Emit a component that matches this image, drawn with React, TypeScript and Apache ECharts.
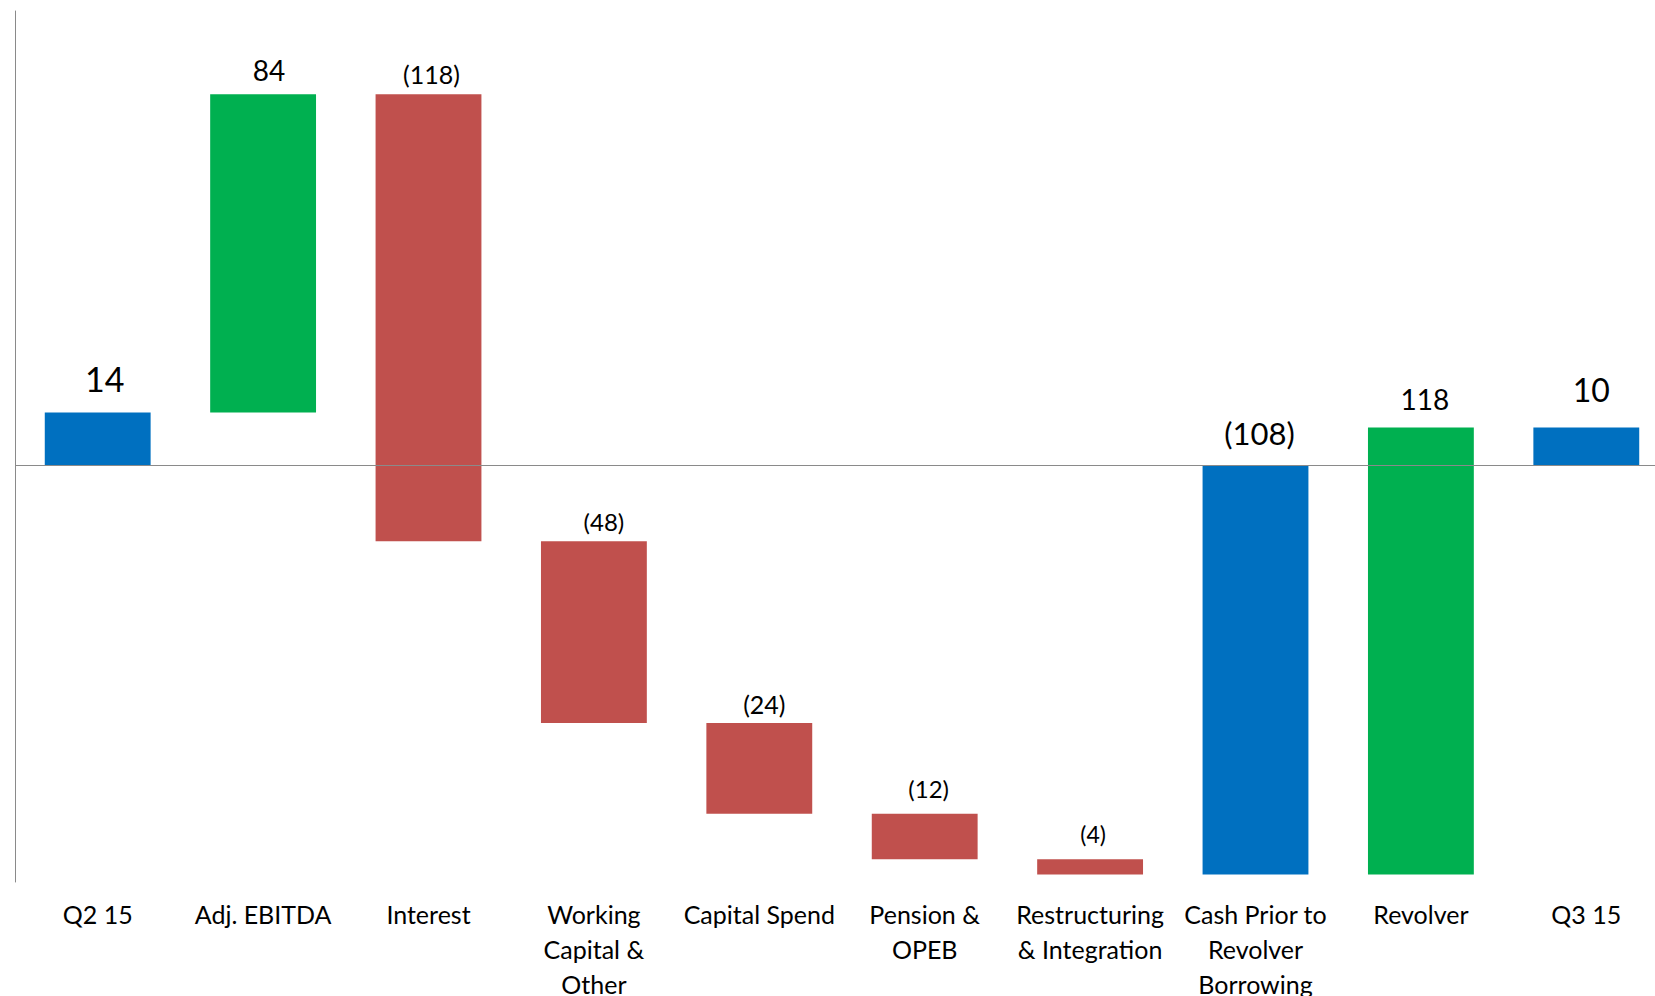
import React, { useEffect, useRef } from "react";
import * as echarts from "echarts";

// ---- data ----
const categories = [
  "Q2 15",
  "Adj. EBITDA",
  "Interest",
  "Working\nCapital &\nOther",
  "Capital Spend",
  "Pension &\nOPEB",
  "Restructuring\n& Integration",
  "Cash Prior to\nRevolver\nBorrowing",
  "Revolver",
  "Q3 15",
];
const changes = [14, 84, -118, -48, -24, -12, -4, -108, 118, 10];
const kinds = [
  "total",
  "increase",
  "decrease",
  "decrease",
  "decrease",
  "decrease",
  "decrease",
  "total",
  "increase",
  "total",
];

// ---- styles ----
const labelSizes = [34, 28, 25, 24, 25, 24, 23, 31, 28, 32];
const labelLifts = [34, 24, 20, 20, 19, 25, 25, 32, 29, 38];
const labelShiftX = [7, 6, 3, 10, 5, 4, 3, 4, 4, 5];
const kindColors: Record<string, string> = {
  total: "#0070C0",
  increase: "#00B050",
  decrease: "#C0504D",
};
const axisGray = "#8a8a8a";
const FONT = "Lato";

function fmt(v: number) {
  return v < 0 ? `(${-v})` : `${v}`;
}

// build floating ranges from the running total
let running = 0;
const rows = changes.map((v, i) => {
  let lo: number, hi: number;
  if (kinds[i] === "total") {
    lo = Math.min(0, v);
    hi = Math.max(0, v);
    running = v;
  } else {
    const next = running + v;
    lo = Math.min(running, next);
    hi = Math.max(running, next);
    running = next;
  }
  return [i, lo, hi, v];
});

export default function App() {
  const ref = useRef<HTMLDivElement>(null);
  useEffect(() => {
    if (!ref.current) return;
    const chart = echarts.init(ref.current, undefined, { renderer: "svg" });
    chart.setOption({
      animation: false,
      backgroundColor: "#ffffff",
      grid: {
        left: 15,
        top: 11,
        width: 1654,
        bottom: 114,
        containLabel: false,
        outerBoundsMode: "none",
      },
      xAxis: {
        type: "category",
        data: categories,
        axisLine: { show: false, onZero: false },
        axisTick: { show: false },
        splitLine: { show: false },
        axisLabel: {
          interval: 0,
          color: "#000",
          fontSize: 25,
          fontFamily: FONT,
          lineHeight: 35,
          margin: 14,
        },
      },
      yAxis: {
        type: "value",
        min: -110,
        max: 120,
        axisLabel: { show: false },
        axisTick: { show: false },
        splitLine: { show: false },
        axisLine: { show: true, onZero: false, lineStyle: { color: axisGray, width: 1 } },
      },
      series: [
        {
          type: "custom",
          z: 2,
          clip: false,
          dimensions: ["x", "lo", "hi", "v"],
          encode: { x: 0, y: [1, 2] },
          data: rows,
          renderItem: (params: any, api: any) => {
            const idx = api.value(0);
            const lo = api.value(1);
            const hi = api.value(2);
            const v = api.value(3);
            const top = api.coord([idx, hi]);
            const bot = api.coord([idx, lo]);
            const w = api.size([1, 0])[0] * 0.64;
            return {
              type: "group",
              children: [
                {
                  type: "rect",
                  shape: { x: top[0] - w / 2, y: top[1], width: w, height: bot[1] - top[1] },
                  style: { fill: kindColors[kinds[idx]] },
                },
                {
                  type: "text",
                  x: top[0] + labelShiftX[idx],
                  y: top[1] - labelLifts[idx],
                  style: {
                    text: fmt(v),
                    fill: "#000",
                    fontSize: labelSizes[idx],
                    fontFamily: FONT,
                    align: "center",
                    verticalAlign: "middle",
                  },
                },
              ],
            };
          },
          markLine: {
            silent: true,
            z: 5,
            symbol: ["none", "none"],
            label: { show: false },
            lineStyle: { color: axisGray, width: 1, type: "solid" },
            data: [{ yAxis: 0 }],
          },
        },
      ],
    });
    return () => chart.dispose();
  }, []);
  return (
    <div
      ref={ref}
      style={{ position: "fixed", left: 0, top: 0, width: 1655, height: 996, background: "#fff" }}
    />
  );
}
